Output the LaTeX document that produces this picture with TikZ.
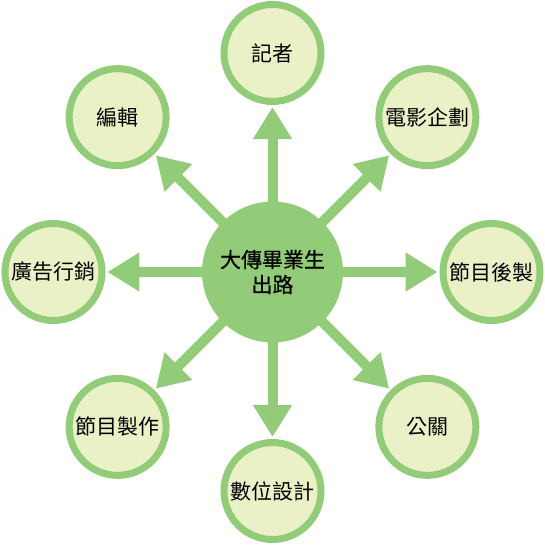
\documentclass[tikz,border=0pt]{standalone}
\usepackage{fontspec}
\usepackage{xcolor}
\usepackage{tikz}
\usetikzlibrary{arrows.meta}
\newfontfamily\cjk{Noto Sans CJK TC}
\newfontfamily\cjkforte[FakeBold=0.6]{Noto Sans CJK TC}
\definecolor{verde}{RGB}{146,204,120}
\definecolor{creme}{RGB}{235,241,198}
\tikzset{
  centro/.style={circle, fill=verde, inner sep=0pt, minimum size=141pt, align=center,
    font=\cjkforte\fontsize{21}{25}\selectfont},
  ramo/.style={circle, draw=verde, fill=creme, line width=7pt, inner sep=0pt, minimum size=97pt,
    font=\cjk\fontsize{21}{25}\selectfont},
  seta/.style={-{Triangle[length=32pt, width=37pt]}, draw=verde, line width=10pt, shorten >=2pt, shorten <=-2pt},
}
\begin{document}
\begin{tikzpicture}[x=1pt, y=1pt]
  \useasboundingbox (-272.5,-272) rectangle (272.5,272);
  \node[centro] (c) at (0,0) {大傳畢業生\\出路};
  \node[ramo] (jz) at (90:219) {記者};
  \node[ramo] (dy) at (45:219) {電影企劃};
  \node[ramo] (hz) at (0:219) {節目後製};
  \node[ramo] (gg) at (-45:219) {公關};
  \node[ramo] (sw) at (-90:219) {數位設計};
  \node[ramo] (zz) at (-135:219) {節目製作};
  \node[ramo] (gx) at (180:219) {廣告行銷};
  \node[ramo] (bj) at (135:219) {編輯};
  \draw[seta] (c) -- (jz);
  \draw[seta] (c) -- (dy);
  \draw[seta] (c) -- (hz);
  \draw[seta] (c) -- (gg);
  \draw[seta] (c) -- (sw);
  \draw[seta] (c) -- (zz);
  \draw[seta] (c) -- (gx);
  \draw[seta] (c) -- (bj);
\end{tikzpicture}
\end{document}
